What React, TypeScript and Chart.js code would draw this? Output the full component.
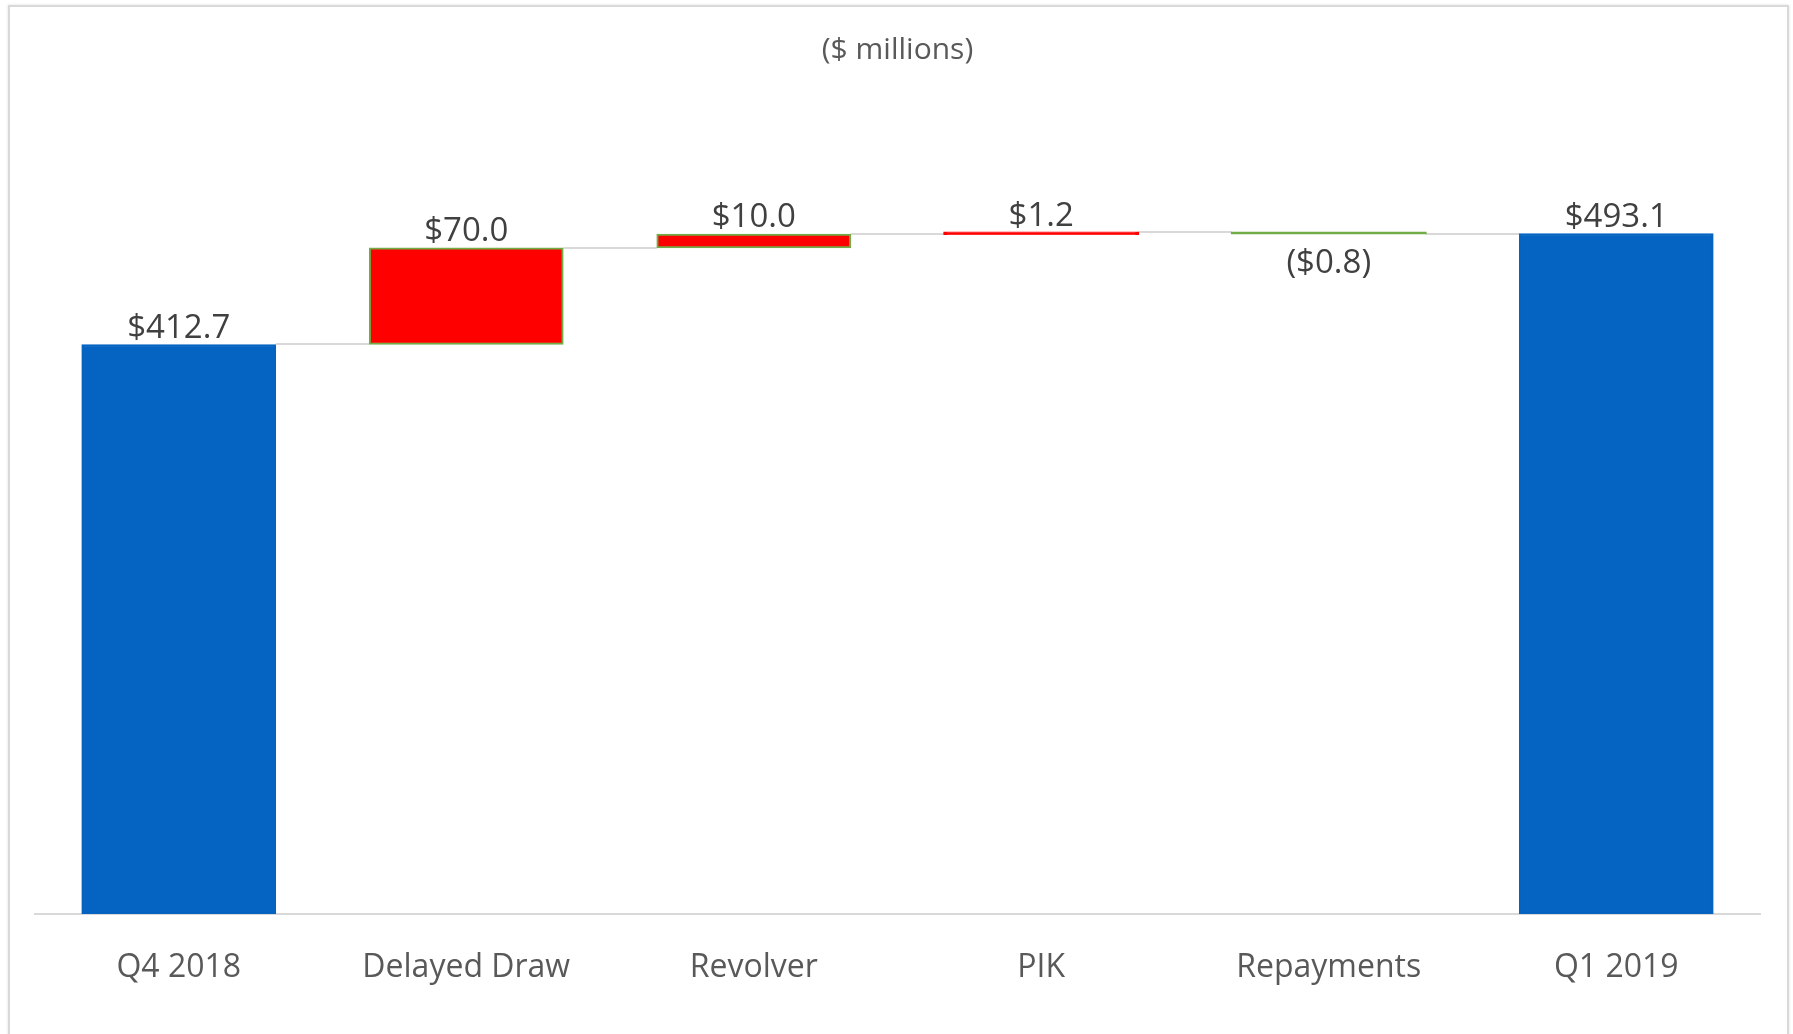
import React, { useEffect, useRef } from "react";
import { Chart, registerables } from "chart.js";

Chart.register(...registerables);

const categories = ["Q4 2018", "Delayed Draw", "Revolver", "PIK", "Repayments", "Q1 2019"];
const changes = [412.7, 70.0, 10.0, 1.2, -0.8, 493.1];
const isTotal = [true, false, false, false, false, true];
const valueLabels = ["$412.7", "$70.0", "$10.0", "$1.2", "($0.8)", "$493.1"];
const fillColors = ["#0563C1", "#FF0000", "#FF0000", "#FF0000", "#70AD47", "#0563C1"];
const borderColors = ["#0563C1", "#70AD47", "#70AD47", "#FF0000", "#70AD47", "#0563C1"];
const subtitle = "($ millions)";

function buildRanges(): [number, number][] {
  const out: [number, number][] = [];
  let running = 0;
  for (let i = 0; i < changes.length; i++) {
    if (isTotal[i]) {
      out.push([0, changes[i]]);
      running = changes[i];
    } else {
      const start = running;
      const end = running + changes[i];
      out.push([start, end]);
      running = end;
    }
  }
  return out;
}

const FONT = "'Open Sans', 'Noto Sans', sans-serif";

export default function App() {
  const ref = useRef<HTMLCanvasElement | null>(null);

  useEffect(() => {
    if (!ref.current) return;
    const ranges = buildRanges();

    const overlay = {
      id: "waterfallOverlay",
      beforeDatasetsDraw(chart: any) {
        const ctx = chart.ctx;
        const meta = chart.getDatasetMeta(0);
        const y = chart.scales.y;
        ctx.save();
        ctx.strokeStyle = "#D9D9D9";
        ctx.lineWidth = 2;
        for (let i = 0; i < ranges.length - 1; i++) {
          const level = ranges[i][1];
          const py = Math.round(y.getPixelForValue(level));
          const a = meta.data[i] as any;
          const b = meta.data[i + 1] as any;
          ctx.beginPath();
          ctx.moveTo(a.x + a.width / 2, py);
          ctx.lineTo(b.x - b.width / 2, py);
          ctx.stroke();
        }
        ctx.restore();
      },
      afterDatasetsDraw(chart: any) {
        const ctx = chart.ctx;
        const meta = chart.getDatasetMeta(0);
        const y = chart.scales.y;
        const area = chart.chartArea;
        ctx.save();
        ctx.fillStyle = "#404040";
        ctx.font = `33px ${FONT}`;
        ctx.textAlign = "center";
        ctx.textBaseline = "middle";
        for (let i = 0; i < ranges.length; i++) {
          const el = meta.data[i] as any;
          const hi = Math.max(ranges[i][0], ranges[i][1]);
          const lo = Math.min(ranges[i][0], ranges[i][1]);
          if (changes[i] >= 0) {
            ctx.fillText(valueLabels[i], el.x, y.getPixelForValue(hi) - 16);
          } else {
            ctx.fillText(valueLabels[i], el.x, y.getPixelForValue(lo) + 30);
          }
        }
        ctx.fillStyle = "#595959";
        ctx.font = `30px ${FONT}`;
        ctx.fillText(subtitle, (area.left + area.right) / 2, 50);
        ctx.restore();
      },
    };

    const chart = new Chart(ref.current, {
      type: "bar",
      data: {
        labels: categories,
        datasets: [
          {
            data: ranges as any,
            backgroundColor: fillColors,
            borderColor: borderColors,
            borderWidth: 2,
            borderSkipped: false,
            inflateAmount: [0.33, 0.33, 0.33, 1, 1, 0.33] as any,
            barPercentage: 0.675,
            categoryPercentage: 1,
          },
        ],
      },
      options: {
        responsive: false,
        animation: false,
        layout: { padding: { left: 35, right: 33, top: 86, bottom: 0 } },
        plugins: {
          legend: { display: false },
          tooltip: { enabled: false },
          title: { display: false },
        },
        scales: {
          x: {
            grid: { display: false, drawTicks: false },
            border: { display: true, color: "#D9D9D9", width: 2 },
            ticks: {
              color: "#595959",
              font: { family: FONT, size: 32 },
              padding: 35,
            },
            afterFit(scale: any) {
              scale.height = 120;
            },
          },
          y: {
            display: false,
            min: 0,
            max: 600,
          },
        },
      },
      plugins: [overlay],
    });
    return () => chart.destroy();
  }, []);

  return (
    <div style={{ position: "fixed", left: 0, top: 0, width: 1793, height: 1034, background: "#fff", overflow: "hidden" }}>
      <div
        style={{
          position: "absolute",
          left: 8,
          top: 5,
          width: 1777,
          height: 1100,
          border: "2px solid #D9D9D9",
          boxShadow: "0 0 3px rgba(0,0,0,0.12)",
        }}
      />
      <canvas ref={ref} width={1793} height={1034} style={{ position: "absolute", left: 0, top: 0 }} />
    </div>
  );
}
